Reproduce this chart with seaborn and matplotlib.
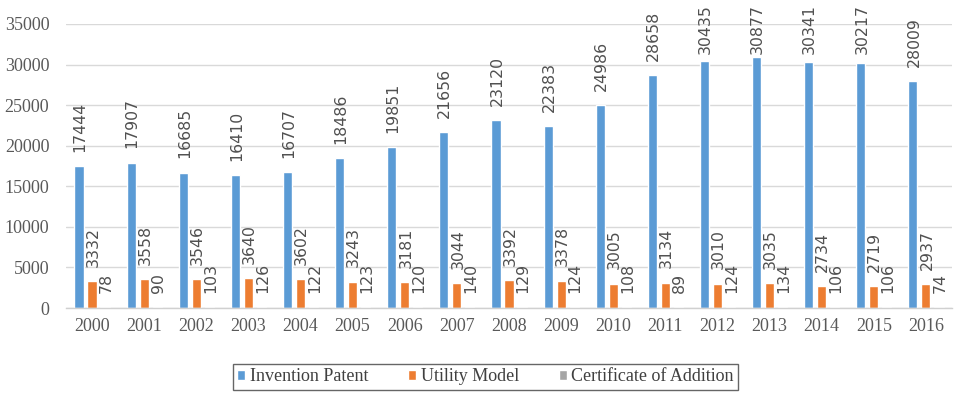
import pandas as pd
import numpy as np
import matplotlib.pyplot as plt
import seaborn as sns

years = [str(y) for y in range(2000, 2017)]
invention_patent = [17444, 17907, 16685, 16410, 16707, 18486, 19851, 21656, 23120,
                    22383, 24986, 28658, 30435, 30877, 30341, 30217, 28009]
utility_model = [3332, 3558, 3546, 3640, 3602, 3243, 3181, 3044, 3392,
                 3378, 3005, 3134, 3010, 3035, 2734, 2719, 2937]
certificate_of_addition = [78, 90, 103, 126, 122, 123, 120, 140, 129,
                           124, 108, 89, 124, 134, 106, 106, 74]

series_names = ['Invention Patent', 'Utility Model', 'Certificate of Addition']
series_colors = ['#5B9BD5', '#ED7D31', '#A5A5A5']

df = pd.DataFrame({
    'Year': years * 3,
    'Count': invention_patent + utility_model + certificate_of_addition,
    'Type': [n for n in series_names for _ in years],
})

sns.set_style('white')
plt.rcParams['font.family'] = ['Liberation Serif', 'DejaVu Serif']

fig = plt.figure(figsize=(9.56, 3.96), dpi=100)
ax = fig.add_axes([0.069, 0.2222, 0.9268, 0.7172])

sns.barplot(data=df, x='Year', y='Count', hue='Type', order=years,
            hue_order=series_names, palette=series_colors,
            width=0.75, gap=0.3, saturation=1, ax=ax)

handles, labels = ax.get_legend_handles_labels()
ax.get_legend().remove()

ax.set_ylim(0, 35000)
ax.set_yticks(np.arange(0, 35001, 5000))
ax.set_xlim(-0.5, len(years) - 0.5)
ax.set_xlabel('')
ax.set_ylabel('')
ax.yaxis.grid(True, color='#d9d9d9', linewidth=1)
ax.set_axisbelow(True)
for side in ['top', 'right', 'left']:
    ax.spines[side].set_visible(False)
ax.spines['bottom'].set_color('#d0d0d0')
ax.spines['bottom'].set_linewidth(1)
ax.tick_params(axis='both', length=0, labelsize=13, colors='#595959')
ax.tick_params(axis='y', pad=12)
ax.tick_params(axis='x', pad=7)

# rotated data labels above each bar, pushed down near the top of the chart
all_values = [invention_patent, utility_model, certificate_of_addition]
for container, values in zip(ax.containers, all_values):
    for bar, v in zip(container, values):
        x = bar.get_x() + bar.get_width() / 2
        y = min(v + 1750, 31300)
        ax.text(x + 0.02, y, f'{v}', rotation=90, ha='center', va='bottom',
                fontsize=11.3, color='#505050', family='DejaVu Sans',
                clip_on=False)

leg = fig.legend(handles, labels, loc='center', bbox_to_anchor=(0.508, 0.049),
                 ncol=3, frameon=True, fancybox=False, fontsize=13,
                 handlelength=0.45, handleheight=0.45, handletextpad=0.25,
                 columnspacing=2.2, borderpad=0.25, labelcolor='#404040')
leg.get_frame().set_edgecolor('#404040')
leg.get_frame().set_linewidth(1)

fig.savefig('out.png', dpi=100)
plt.close(fig)
